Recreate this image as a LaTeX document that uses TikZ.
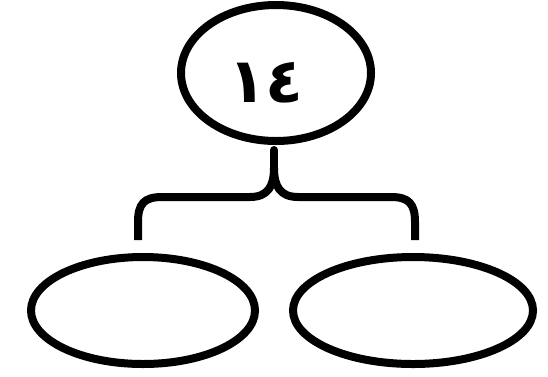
\documentclass[tikz,border=0pt]{standalone}
\usepackage{fontspec}
\newfontfamily\arabicfont[Script=Arabic]{DejaVu Sans}
\tikzset{
  bubble/.style={draw, ellipse, line width=8pt, inner sep=0pt},
  brace/.style={line width=8pt}
}
\usetikzlibrary{shapes.geometric}
\begin{document}
\begin{tikzpicture}[x=1pt, y=-1pt]
    \useasboundingbox (0,0) rectangle (548,376);
    % top
    \node[bubble, minimum width=190pt, minimum height=136pt] (top) at (276,73) {};
    \node (num) at (266,83) {\arabicfont\bfseries\fontsize{62}{62}\selectfont ١٤};

    % bottom
    \node[bubble, minimum width=224pt, minimum height=107pt] (left) at (143,310.5) {};
    \node[bubble, minimum width=240pt, minimum height=107pt] (right) at (413,310.5) {};

    % brace
    \coordinate (lend) at (138,240);
    \coordinate (rend) at (415,240);
    \coordinate (cusp) at (274,168);
    \coordinate (stem) at (274,150);
    \draw[brace] (lend) -- (138,222) .. controls (138,204) and (144,197) .. (162,197) -- (250,197)
        .. controls (268,197) and (274,186) .. (cusp);
    \draw[brace] (rend) -- (415,222) .. controls (415,204) and (409,197) .. (391,197) -- (298,197)
        .. controls (280,197) and (274,186) .. (cusp);
    \draw[brace, line cap=round] (cusp) -- (stem);
\end{tikzpicture}
\end{document}
